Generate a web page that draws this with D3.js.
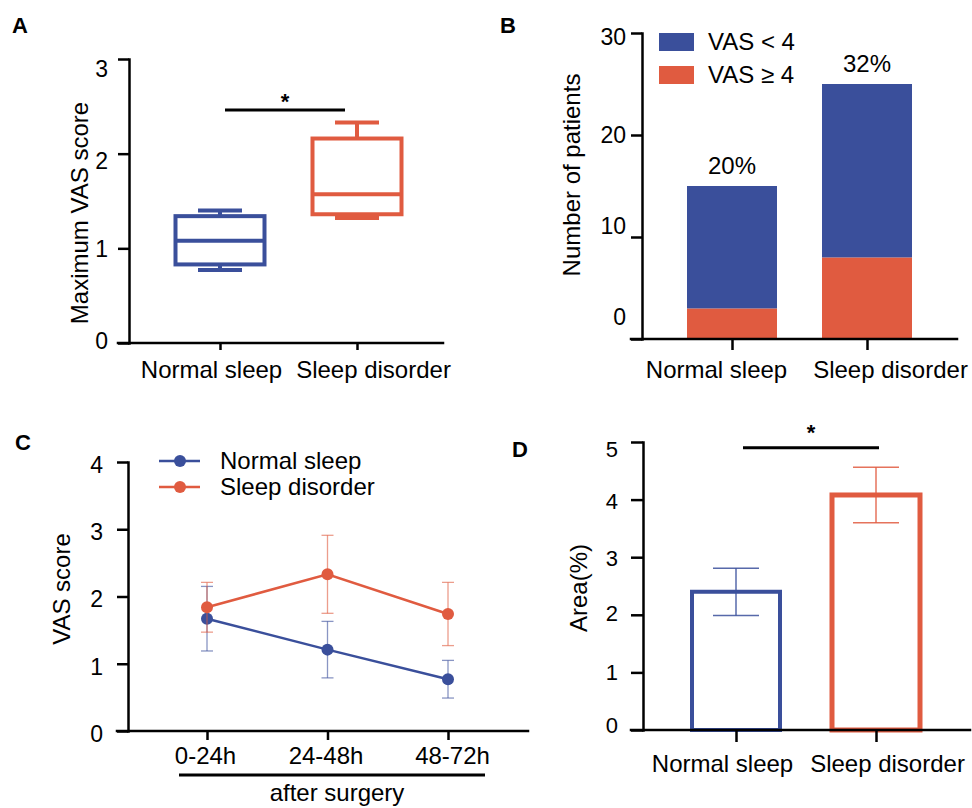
<!DOCTYPE html>
<html>
<head>
<meta charset="utf-8">
<style>
body { margin: 0; background: #fff; }
svg text { font-family: Arial, "Liberation Sans", sans-serif; fill: #000; }
.axis path, .axis line { stroke: #000; stroke-width: 2.5; }
.panel-label { font-weight: bold; font-size: 22px; }
</style>
<script src="https://d3js.org/d3.v7.min.js"></script>
</head>
<body>
<svg width="972" height="808"></svg>
<script>
// ---- data ----
var groups = ["Normal sleep", "Sleep disorder"];

// A: maximum VAS score, box plot
var boxMin = [0.77, 1.32];
var boxQ1 = [0.83, 1.36];
var boxMedian = [1.08, 1.57];
var boxQ3 = [1.34, 2.16];
var boxMax = [1.40, 2.33];
var yTicksA = [0, 1, 2, 3];

// B: number of patients
var vasLow = [12, 17];
var vasHigh = [3, 8];
var pctLabels = ["20%", "32%"];
var legendB = ["VAS < 4", "VAS \u2265 4"];
var yTicksB = [0, 10, 20, 30];

// C: VAS score after surgery
var periods = ["0-24h", "24-48h", "48-72h"];
var normalMean = [1.67, 1.21, 0.77];
var normalErr = [0.48, 0.42, 0.28];
var disorderMean = [1.84, 2.33, 1.74];
var disorderErr = [0.37, 0.58, 0.47];
var yTicksC = [0, 1, 2, 3, 4];

// D: area (%)
var areaMean = [2.40, 4.08];
var areaErr = [0.41, 0.48];
var yTicksD = [0, 1, 2, 3, 4, 5];

var blue = "#3a4f9b", red = "#e05b40";
var colors = [blue, red];

var svg = d3.select("svg");

// ---- helpers ----
function yAxis(scale, ticks, x, tickSize, pad, fs, shifts) {
  var g = svg.append("g").attr("class", "axis")
    .attr("transform", "translate(" + x + ",0)")
    .call(d3.axisLeft(scale).tickValues(ticks).tickFormat(d3.format("d"))
      .tickSize(tickSize).tickPadding(pad).tickSizeOuter(0));
  g.attr("font-family", null).attr("font-size", null);
  g.select(".domain").attr("stroke-linecap", "square");
  g.selectAll("text").attr("font-size", fs)
    .attr("transform", function(d, i) { return "translate(0," + shifts[i] + ")"; });
}

function xAxis(scale, y, x0, x1, tickSize, baseline, shifts) {
  var g = svg.append("g").attr("class", "axis")
    .attr("transform", "translate(0," + y + ")")
    .call(d3.axisBottom(scale).tickSize(tickSize).tickSizeOuter(0));
  g.attr("font-family", null).attr("font-size", null);
  g.select(".domain").remove();
  g.append("line").attr("x1", x0).attr("x2", x1).attr("stroke-linecap", "square");
  g.selectAll("text").attr("font-size", 24)
    .attr("y", baseline - y).attr("dy", 0)
    .attr("dx", function(d, i) { return shifts[i]; });
}

function yTitle(text, x, y) {
  svg.append("text")
    .attr("transform", "translate(" + x + "," + y + ") rotate(-90)")
    .attr("text-anchor", "middle").attr("font-size", 24).text(text);
}

function panelLabel(t, x, y) {
  svg.append("text").attr("class", "panel-label").attr("x", x).attr("y", y).text(t);
}

function sigBar(x1, x2, y, starY) {
  svg.append("line").attr("x1", x1).attr("x2", x2).attr("y1", y).attr("y2", y)
    .attr("stroke", "#000").attr("stroke-width", 3);
  svg.append("text").attr("x", (x1 + x2) / 2).attr("y", starY)
    .attr("text-anchor", "middle").attr("font-size", 22).attr("font-weight", "bold").text("*");
}

// ---- panel A ----
var yA = d3.scaleLinear().domain([0, 3]).range([343, 59]);
var xA = d3.scalePoint().domain(groups).range([220, 357]);
var boxW = 89, capW = 44;
var boxes = groups.map(function(k, i) {
  return { k: k, min: boxMin[i], q1: boxQ1[i], med: boxMedian[i], q3: boxQ3[i], max: boxMax[i], c: colors[i] };
});
var bA = svg.append("g").attr("fill", "none").attr("stroke-width", 4)
  .selectAll("g").data(boxes).join("g").attr("stroke", function(d) { return d.c; });
bA.append("rect")
  .attr("x", function(d) { return xA(d.k) - boxW / 2; }).attr("width", boxW)
  .attr("y", function(d) { return yA(d.q3); })
  .attr("height", function(d) { return yA(d.q1) - yA(d.q3); });
bA.append("line")
  .attr("x1", function(d) { return xA(d.k) - boxW / 2; }).attr("x2", function(d) { return xA(d.k) + boxW / 2; })
  .attr("y1", function(d) { return yA(d.med); }).attr("y2", function(d) { return yA(d.med); });
[["q3", "max"], ["q1", "min"]].forEach(function(p) {
  bA.append("line")
    .attr("x1", function(d) { return xA(d.k); }).attr("x2", function(d) { return xA(d.k); })
    .attr("y1", function(d) { return yA(d[p[0]]); }).attr("y2", function(d) { return yA(d[p[1]]); });
  bA.append("line")
    .attr("x1", function(d) { return xA(d.k) - capW / 2; }).attr("x2", function(d) { return xA(d.k) + capW / 2; })
    .attr("y1", function(d) { return yA(d[p[1]]); }).attr("y2", function(d) { return yA(d[p[1]]); });
});
yAxis(yA, yTicksA, 129, 11, 10, 23, [-2, 1, 7, 10]);
xAxis(xA, 343, 118, 443, 7, 378, [-9, 16]);
yTitle("Maximum VAS score", 88, 213);
sigBar(xA(groups[0]) + 5, xA(groups[1]) - 12, yA(2.46), yA(2.46) - 1);
panelLabel("A", 12, 33);

// ---- panel B ----
var yB = d3.scaleLinear().domain([0, 30]).range([339, 33]);
var xB = d3.scalePoint().domain(groups).range([732, 867]);
var barW = 90;
var stackData = groups.map(function(k, i) { return { k: k, high: vasHigh[i], low: vasLow[i] }; });
var series = d3.stack().keys(["high", "low"])(stackData);
var colB = { high: red, low: blue };
svg.append("g").selectAll("g").data(series).join("g")
  .attr("fill", function(s) { return colB[s.key]; })
  .selectAll("rect").data(function(s) { return s; }).join("rect")
  .attr("x", function(d) { return xB(d.data.k) - barW / 2; }).attr("width", barW)
  .attr("y", function(d) { return yB(d[1]); })
  .attr("height", function(d) { return yB(d[0]) - yB(d[1]); });
svg.append("g").selectAll("text").data(stackData).join("text")
  .attr("x", function(d) { return xB(d.k); })
  .attr("y", function(d) { return yB(d.high + d.low) - 12; })
  .attr("text-anchor", "middle").attr("font-size", 24)
  .text(function(d, i) { return pctLabels[i]; });
yAxis(yB, yTicksB, 642, 11, 5, 23, [-22, -11, 0, 4]);
xAxis(xB, 339, 631, 957, 11, 378, [-16, 23]);
yTitle("Number of patients", 580, 175);
var legB = svg.append("g").selectAll("g").data(legendB).join("g")
  .attr("transform", function(d, i) { return "translate(659," + (33 + i * 33) + ")"; });
legB.append("rect").attr("width", 35).attr("height", 18)
  .attr("fill", function(d, i) { return i ? red : blue; });
legB.append("text").attr("x", 49).attr("y", 17).attr("font-size", 24).text(function(d) { return d; });
panelLabel("B", 500, 33);

// ---- panel C ----
var yC = d3.scaleLinear().domain([0, 4]).range([731, 462]);
var xC = d3.scalePoint().domain(periods).range([207, 448]);
var seriesC = [
  { name: "Normal sleep", c: blue, pts: periods.map(function(p, i) { return { p: p, m: normalMean[i], e: normalErr[i] }; }) },
  { name: "Sleep disorder", c: red, pts: periods.map(function(p, i) { return { p: p, m: disorderMean[i], e: disorderErr[i] }; }) }
];
var line = d3.line().x(function(d) { return xC(d.p); }).y(function(d) { return yC(d.m); });
var sC = svg.append("g").selectAll("g").data(seriesC).join("g")
  .attr("stroke", function(d) { return d.c; }).attr("fill", function(d) { return d.c; });
var eb = sC.selectAll("g.err").data(function(d) { return d.pts; }).join("g").attr("class", "err")
  .attr("stroke-width", 1.3).attr("stroke-opacity", 0.6);
eb.append("line")
  .attr("x1", function(d) { return xC(d.p); }).attr("x2", function(d) { return xC(d.p); })
  .attr("y1", function(d) { return yC(d.m + d.e); }).attr("y2", function(d) { return yC(d.m - d.e); });
eb.selectAll("line.cap").data(function(d) { return [d.m + d.e, d.m - d.e].map(function(v) { return { p: d.p, v: v }; }); })
  .join("line").attr("class", "cap")
  .attr("x1", function(d) { return xC(d.p) - 6; }).attr("x2", function(d) { return xC(d.p) + 6; })
  .attr("y1", function(d) { return yC(d.v); }).attr("y2", function(d) { return yC(d.v); });
sC.append("path").attr("fill", "none").attr("stroke-width", 2.5).attr("d", function(d) { return line(d.pts); });
sC.selectAll("circle").data(function(d) { return d.pts; }).join("circle")
  .attr("stroke", "none").attr("r", 6)
  .attr("cx", function(d) { return xC(d.p); }).attr("cy", function(d) { return yC(d.m); });
yAxis(yC, yTicksC, 128, 11, 14, 23, [3, 3, 3, 3, 3]);
xAxis(xC, 731, 117, 528, 9, 764, [-2, -2, 4]);
yTitle("VAS score", 70, 589);
svg.append("line").attr("x1", 179).attr("x2", 485).attr("y1", 775).attr("y2", 775)
  .attr("stroke", "#000").attr("stroke-width", 3);
svg.append("text").attr("x", 337).attr("y", 801).attr("text-anchor", "middle")
  .attr("font-size", 24).text("after surgery");
var legC = svg.append("g").selectAll("g").data(seriesC).join("g")
  .attr("transform", function(d, i) { return "translate(159," + (461 + i * 26) + ")"; });
legC.append("line").attr("x2", 41).attr("stroke", function(d) { return d.c; }).attr("stroke-width", 2.5);
legC.append("circle").attr("cx", 21).attr("r", 6).attr("fill", function(d) { return d.c; });
legC.append("text").attr("x", 61).attr("y", 8).attr("font-size", 24).text(function(d) { return d.name; });
panelLabel("C", 15, 450);

// ---- panel D ----
var yD = d3.scaleLinear().domain([0, 5]).range([730, 442]);
var xD = d3.scalePoint().domain(groups).range([736, 876]);
var barsD = groups.map(function(k, i) { return { k: k, m: areaMean[i], e: areaErr[i], c: colors[i], w: i ? 5 : 4 }; });
var bD = svg.append("g").selectAll("g").data(barsD).join("g").attr("stroke", function(d) { return d.c; });
bD.append("rect").attr("fill", "#fff")
  .attr("stroke-width", function(d) { return d.w; })
  .attr("x", function(d) { return xD(d.k) - 44; }).attr("width", 88)
  .attr("y", function(d) { return yD(d.m); })
  .attr("height", function(d) { return yD(0) - yD(d.m); });
bD.append("line").attr("stroke-width", 1.5).attr("stroke-opacity", 0.85)
  .attr("x1", function(d) { return xD(d.k); }).attr("x2", function(d) { return xD(d.k); })
  .attr("y1", function(d) { return yD(d.m + d.e); }).attr("y2", function(d) { return yD(d.m - d.e); });
[1, -1].forEach(function(s) {
  bD.append("line").attr("stroke-width", 1.5).attr("stroke-opacity", 0.85)
    .attr("x1", function(d) { return xD(d.k) - 23; }).attr("x2", function(d) { return xD(d.k) + 23; })
    .attr("y1", function(d) { return yD(d.m + s * d.e); }).attr("y2", function(d) { return yD(d.m + s * d.e); });
});
yAxis(yD, yTicksD, 643, 12, 13, 22, [-5, 0, -1, 1, 2, 7]);
xAxis(xD, 730, 631, 970, 12, 772, [-14, 11]);
yTitle("Area(%)", 587, 588);
sigBar(743, 879, yD(4.9), 440);
panelLabel("D", 512, 457);
</script>
</body>
</html>
